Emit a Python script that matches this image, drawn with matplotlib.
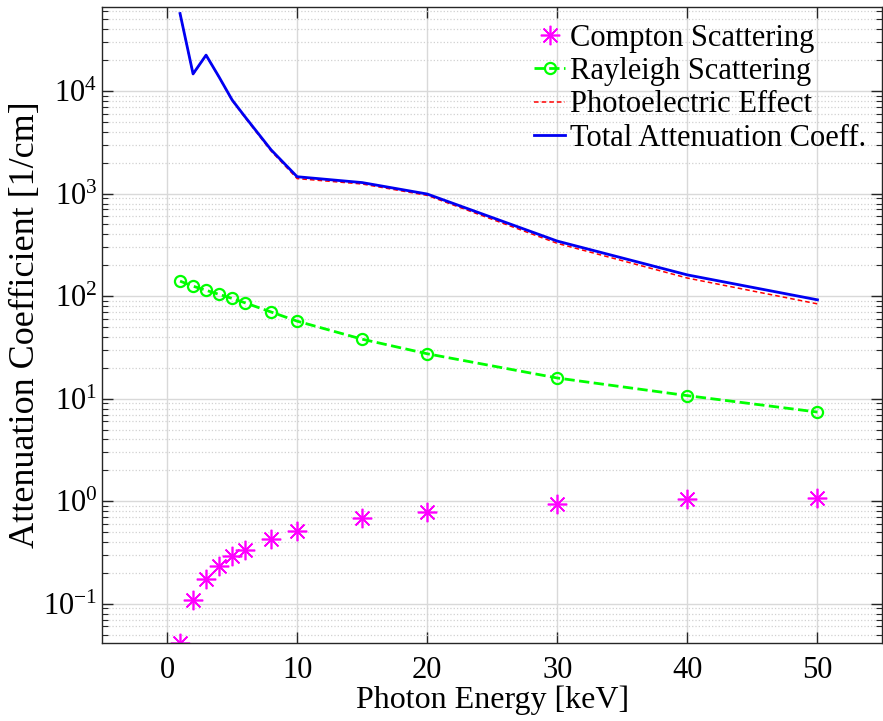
import numpy as np
import matplotlib
matplotlib.use("Agg")
import matplotlib.pyplot as plt
from matplotlib.ticker import LogLocator, NullFormatter

plt.rcParams['font.family'] = ['Liberation Serif', 'DejaVu Serif']
plt.rcParams['mathtext.fontset'] = 'custom'
plt.rcParams['mathtext.rm'] = 'Liberation Serif'
plt.rcParams['mathtext.default'] = 'regular'

# photon energies [keV]
energy = [1, 2, 3, 4, 5, 6, 8, 10, 15, 20, 30, 40, 50]

# attenuation coefficients [1/cm]
compton = [0.0413, 0.109, 0.173, 0.234, 0.289, 0.336, 0.431, 0.516, 0.68, 0.79, 0.93, 1.05, 1.08]
rayleigh = [140, 125, 114, 104, 95, 86, 70, 57, 38, 27.4, 15.9, 10.7, 7.4]
photoelectric = [5.68e4, 1.45e4, 2.23e4, 1.36e4, 8.1e3, 5.5e3, 2.6e3, 1.40e3, 1.24e3, 960, 327, 150, 84]
total = [5.7e4, 1.47e4, 2.24e4, 1.37e4, 8.2e3, 5.6e3, 2.67e3, 1.46e3, 1.28e3, 990, 344, 161, 92]

x_ticks = [0, 10, 20, 30, 40, 50]
y_ticks = [1e-1, 1e0, 1e1, 1e2, 1e3, 1e4]

fig = plt.figure(figsize=(8.83, 7.21), dpi=100)
ax = fig.add_axes([102/883, 78/721, 780.5/883, 636/721])

ax.semilogy(energy, compton, linestyle='none', marker=(8, 2, 0), color=(1, 0, 1),
            markersize=14, markeredgewidth=1.2, label='Compton Scattering')
ax.semilogy(energy, rayleigh, '--o', color=(0, 1, 0), linewidth=2, markersize=8,
            markerfacecolor='none', markeredgewidth=1.6, label='Rayleigh Scattering')
ax.semilogy(energy, photoelectric, '--', color='red', linewidth=1.1,
            dashes=(3, 2), label='Photoelectric Effect')
ax.semilogy(energy, total, '-', color=(0, 0, 0.95), linewidth=2,
            label='Total Attenuation Coeff.')

ax.set_xlim(-5, 55)
ax.set_ylim(0.0414, 6.6e4)
ax.set_xticks(x_ticks)
ax.set_yticks(y_ticks)
ax.yaxis.set_minor_locator(LogLocator(base=10, subs=np.arange(2, 10), numticks=20))
ax.yaxis.set_minor_formatter(NullFormatter())

# MATLAB-like box, inward ticks and grids
dark = (0.15, 0.15, 0.15)
for s in ax.spines.values():
    s.set_color(dark)
    s.set_linewidth(1.0)
ax.tick_params(which='both', direction='in', top=True, right=True, colors=dark,
               labelcolor='black', labelsize=22)
ax.tick_params(which='major', length=8, width=1.0)
ax.tick_params(which='minor', length=4, width=0.8)
ax.tick_params(axis='x', which='major', pad=9)
ax.tick_params(axis='x', which='minor', bottom=False, top=False)
ax.grid(True, which='major', color=(0.85, 0.85, 0.85), linewidth=1.0)
ax.grid(True, which='minor', axis='y', color=(0.82, 0.82, 0.82), linestyle=':', linewidth=0.9)
ax.set_axisbelow(True)

ax.set_xlabel('Photon Energy [keV]', fontsize=23, labelpad=1)
ax.set_ylabel('Attenuation Coefficient [1/cm]', fontsize=26, labelpad=1)

ax.legend(loc='upper right', bbox_to_anchor=(1.0, 1.0), frameon=False, fontsize=22,
          handlelength=1.0, handletextpad=0.15, labelspacing=0.14, borderaxespad=0.15)

fig.savefig('out.png', dpi=100)
